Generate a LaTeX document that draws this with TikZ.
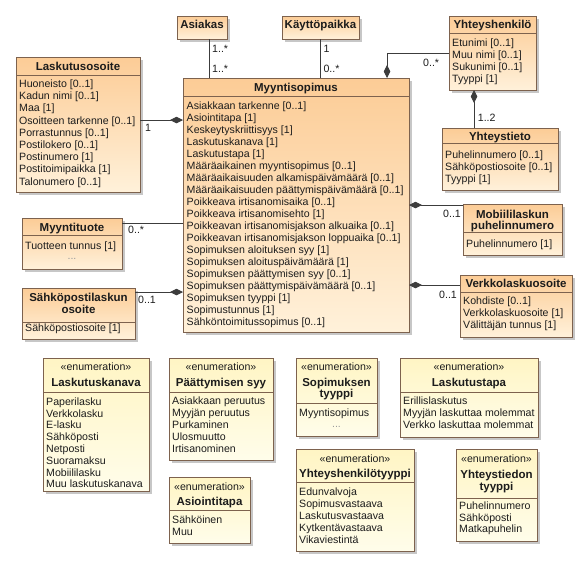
\documentclass[tikz,border=0pt]{standalone}
\usepackage{fontspec}
\setmainfont{Liberation Sans}
\usetikzlibrary{arrows.meta,shadows}
\definecolor{bord}{RGB}{125,98,78}
\definecolor{clsA}{RGB}{252,204,150}
\definecolor{clsB}{RGB}{255,241,218}
\definecolor{enA}{RGB}{255,245,196}
\definecolor{enB}{RGB}{255,253,234}
\definecolor{lnk}{RGB}{60,60,60}
\definecolor{txt}{RGB}{28,28,28}
\newcommand\firstst{\rule{0pt}{10pt}}
\begin{document}
\begin{tikzpicture}[x=1pt,y=-1pt,
  box/.style={draw=bord, line width=0.8pt, inner sep=0, outer sep=0, anchor=north west,
    drop shadow={shadow xshift=3pt,shadow yshift=-3pt,fill=black!22,opacity=1}},
  cls/.style={box, top color=clsA, bottom color=clsB},
  enm/.style={box, top color=enA, bottom color=enB},
  sep/.style={draw=bord, line width=0.7pt},
  ttl/.style={font=\bfseries\fontsize{11.5}{11.3}\selectfont, text=txt, inner sep=0, align=center, anchor=north},
  stereo/.style={font=\fontsize{10.6}{12}\selectfont, text=txt, inner sep=0, anchor=north},
  attr/.style={font=\fontsize{10.6}{12}\selectfont, text=txt, inner sep=0, align=left, anchor=north west},
  eattr/.style={font=\fontsize{10.6}{11.8}\selectfont, text=txt, inner sep=0, align=left, anchor=north west},
  dots/.style={font=\fontsize{10.6}{12}\selectfont, text=black!40, inner sep=0, anchor=base},
  mult/.style={font=\fontsize{10.6}{12}\selectfont, text=txt, inner sep=0, anchor=west},
  assoc/.style={draw=lnk, line width=0.8pt},
  comp/.style={assoc, {Diamond[length=13pt,width=6.5pt,fill=lnk]}-}
]
\useasboundingbox[fill=white] (0,0) rectangle (587,566);

% ---------- classes ----------
\node[cls, minimum width=50, minimum height=23] (as) at (177,16) {};
\node[ttl] (as-t) at (202,18.3) {\firstst Asiakas};

\node[cls, minimum width=77, minimum height=23] (kp) at (282,16) {};
\node[ttl] (kp-t) at (320.5,18.3) {\firstst Käyttöpaikka};

\node[cls, minimum width=87, minimum height=74] (yh) at (449,16) {};
\draw[sep] ([yshift=-17]yh.north west) -- ([yshift=-17]yh.north east);
\node[ttl] (yh-t) at (492.5,18.3) {\firstst Yhteyshenkilö};
\node[attr] (yh-a) at (452,36.3) {\firstst Etunimi [0..1]\\Muu nimi [0..1]\\Sukunimi [0..1]\\Tyyppi [1]};

\node[cls, minimum width=116, minimum height=62] (yt) at (442,128) {};
\draw[sep] ([yshift=-15]yt.north west) -- ([yshift=-15]yt.north east);
\node[ttl] (yt-t) at (500,130.7) {\firstst Yhteystieto};
\node[attr] (yt-a) at (445,148.3) {\firstst Puhelinnumero [0..1]\\Sähköpostiosoite [0..1]\\Tyyppi [1]};

\node[cls, minimum width=124, minimum height=135] (lo) at (16,57) {};
\draw[sep] ([yshift=-18]lo.north west) -- ([yshift=-18]lo.north east);
\node[ttl] (lo-t) at (78,60) {\firstst Laskutusosoite};
\node[attr, font=\fontsize{10.6}{12.2}\selectfont] (lo-a) at (19,77.3) {\firstst Huoneisto [0..1]\\Kadun nimi [0..1]\\Maa [1]\\Osoitteen tarkenne [0..1]\\Porrastunnus [0..1]\\Postilokero [0..1]\\Postinumero [1]\\Postitoimipaikka [1]\\Talonumero [0..1]};

\node[cls, minimum width=226, minimum height=254] (ms) at (183,78) {};
\draw[sep] ([yshift=-18]ms.north west) -- ([yshift=-18]ms.north east);
\node[ttl] (ms-t) at (296,81) {\firstst Myyntisopimus};
\node[attr] (ms-a) at (186.5,99) {\firstst Asiakkaan tarkenne [0..1]\\Asiointitapa [1]\\Keskeytyskriittisyys [1]\\Laskutuskanava [1]\\Laskutustapa [1]\\Määräaikainen myyntisopimus [0..1]\\Määräaikaisuuden alkamispäivämäärä [0..1]\\Määräaikaisuuden päättymispäivämäärä [0..1]\\Poikkeava irtisanomisaika [0..1]\\Poikkeava irtisanomisehto [1]\\Poikkeavan irtisanomisjakson alkuaika [0..1]\\Poikkeavan irtisanomisjakson loppuaika [0..1]\\Sopimuksen aloituksen syy [1]\\Sopimuksen aloituspäivämäärä [1]\\Sopimuksen päättymisen syy [0..1]\\Sopimuksen päättymispäivämäärä [0..1]\\Sopimuksen tyyppi [1]\\Sopimustunnus [1]\\Sähköntoimitussopimus [0..1]};

\node[cls, minimum width=100, minimum height=51] (mt) at (22,218) {};
\draw[sep] ([yshift=-17]mt.north west) -- ([yshift=-17]mt.north east);
\node[ttl] (mt-t) at (72,221.3) {\firstst Myyntituote};
\node[attr] (mt-a) at (25,239) {\firstst Tuotteen tunnus [1]};
\node[dots] (mt-d) at (72,259) {...};

\node[cls, minimum width=113, minimum height=51] (sp) at (22,288) {};
\draw[sep] ([yshift=-34]sp.north west) -- ([yshift=-34]sp.north east);
\node[ttl] (sp-t) at (78.5,291.7) {\firstst Sähköpostilaskun\\osoite};
\node[attr] (sp-a) at (25,321.3) {\firstst Sähköpostiosoite [1]};

\node[cls, minimum width=99, minimum height=51] (mp) at (463,204) {};
\draw[sep] ([yshift=-28]mp.north west) -- ([yshift=-28]mp.north east);
\node[ttl] (mp-t) at (512.5,208) {\firstst Mobiililaskun\\puhelinnumero};
\node[attr] (mp-a) at (466,237) {\firstst Puhelinnumero [1]};

\node[cls, minimum width=112, minimum height=62] (vk) at (460,275) {};
\draw[sep] ([yshift=-17]vk.north west) -- ([yshift=-17]vk.north east);
\node[ttl] (vk-t) at (516,277.3) {\firstst Verkkolaskuosoite};
\node[attr] (vk-a) at (463,294) {\firstst Kohdiste [0..1]\\Verkkolaskuosoite [1]\\Välittäjän tunnus [1]};

% ---------- enumerations ----------
\node[enm, minimum width=106, minimum height=133] (e1) at (43,358) {};
\draw[sep] ([yshift=-34]e1.north west) -- ([yshift=-34]e1.north east);
\node[stereo] (e1-s) at (96,360.7) {\firstst «enumeration»};
\node[ttl] (e1-t) at (96,376.3) {\firstst Laskutuskanava};
\node[eattr] (e1-a) at (46,395) {\firstst Paperilasku\\Verkkolasku\\E-lasku\\Sähköposti\\Netposti\\Suoramaksu\\Mobiililasku\\Muu laskutuskanava};

\node[enm, minimum width=104, minimum height=102] (e2) at (169,358) {};
\draw[sep] ([yshift=-34]e2.north west) -- ([yshift=-34]e2.north east);
\node[stereo] (e2-s) at (221,360.7) {\firstst «enumeration»};
\node[ttl] (e2-t) at (221,376.3) {\firstst Päättymisen syy};
\node[eattr] (e2-a) at (172,394.7) {\firstst Asiakkaan peruutus\\Myyjän peruutus\\Purkaminen\\Ulosmuutto\\Irtisanominen};

\node[enm, minimum width=81, minimum height=78] (e3) at (296,358) {};
\draw[sep] ([yshift=-45]e3.north west) -- ([yshift=-45]e3.north east);
\node[stereo] (e3-s) at (336.5,360.7) {\firstst «enumeration»};
\node[ttl, font=\bfseries\fontsize{11.5}{11}\selectfont] (e3-t) at (336.5,376.3) {\firstst Sopimuksen\\tyyppi};
\node[eattr] (e3-a) at (299,406.3) {\firstst Myyntisopimus};
\node[dots] (e3-d) at (336.5,427) {...};

\node[enm, minimum width=138, minimum height=79] (e4) at (400,358) {};
\draw[sep] ([yshift=-34]e4.north west) -- ([yshift=-34]e4.north east);
\node[stereo] (e4-s) at (469,360.7) {\firstst «enumeration»};
\node[ttl] (e4-t) at (469,376.3) {\firstst Laskutustapa};
\node[eattr] (e4-a) at (403,394.7) {\firstst Erillislaskutus\\Myyjän laskuttaa molemmat\\Verkko laskuttaa molemmat};

\node[enm, minimum width=118, minimum height=102] (e5) at (296,449) {};
\draw[sep] ([yshift=-33]e5.north west) -- ([yshift=-33]e5.north east);
\node[stereo] (e5-s) at (355,452.3) {\firstst «enumeration»};
\node[ttl] (e5-t) at (355,467.3) {\firstst Yhteyshenkilötyyppi};
\node[eattr] (e5-a) at (299,485.7) {\firstst Edunvalvoja\\Sopimusvastaava\\Laskutusvastaava\\Kytkentävastaava\\Vikaviestintä};

\node[enm, minimum width=81, minimum height=66] (e6) at (169,477) {};
\draw[sep] ([yshift=-33]e6.north west) -- ([yshift=-33]e6.north east);
\node[stereo] (e6-s) at (209.5,480.7) {\firstst «enumeration»};
\node[ttl] (e6-t) at (209.5,495.7) {\firstst Asiointitapa};
\node[eattr] (e6-a) at (172,513.3) {\firstst Sähköinen\\Muu};

\node[enm, minimum width=81, minimum height=92] (e7) at (456,449) {};
\draw[sep] ([yshift=-49]e7.north west) -- ([yshift=-49]e7.north east);
\node[stereo] (e7-s) at (496.5,452.3) {\firstst «enumeration»};
\node[ttl, font=\bfseries\fontsize{11.5}{12.7}\selectfont] (e7-t) at (496.5,468) {\firstst Yhteystiedon\\tyyppi};
\node[eattr] (e7-a) at (459,499) {\firstst Puhelinnumero\\Sähköposti\\Matkapuhelin};

% ---------- connectors ----------
\coordinate (p-as) at ([xshift=7]as.south);
\draw[assoc] (p-as) -- (p-as |- ms.north);
\draw[assoc] (kp.south) -- (kp.south |- ms.north);
\coordinate (p-yh) at ([yshift=-37]yh.north west);
\coordinate (p-ms) at ([xshift=-22]ms.north east);
\draw[comp] (p-ms) |- (p-yh);
\coordinate (p-yh2) at ([xshift=25]yh.south west);
\draw[comp] (p-yh2) -- (p-yh2 |- yt.north);
\coordinate (p-lo) at ([yshift=-63]lo.north east);
\draw[comp] (p-lo -| ms.west) -- (p-lo);
\coordinate (p-mt) at ([yshift=-5]mt.north east);
\draw[assoc] (p-mt -| ms.west) -- (p-mt);
\coordinate (p-sp) at ([yshift=-4]sp.north east);
\draw[comp] (p-sp -| ms.west) -- (p-sp);
\coordinate (p-mp) at ([yshift=-1]mp.north west);
\draw[comp] (p-mp -| ms.east) -- (p-mp);
\coordinate (p-vk) at ([yshift=-10]vk.north west);
\draw[comp] (p-vk -| ms.east) -- (p-vk);

% ---------- multiplicities ----------
\node[mult] (m1) at (212,49) {1..*};
\node[mult] (m2) at (212,69) {1..*};
\node[mult] (m3) at (323.3,49) {1};
\node[mult] (m4) at (323.3,69) {0..*};
\node[mult] (m5) at (423,63) {0..*};
\node[mult] (m6) at (477.7,118) {1..2};
\node[mult] (m7) at (145,128) {1};
\node[mult] (m8) at (128,230) {0..*};
\node[mult] (m9) at (138,300) {0..1};
\node[mult] (m10) at (443,214) {0..1};
\node[mult] (m11) at (439,295) {0..1};
\end{tikzpicture}
\end{document}
